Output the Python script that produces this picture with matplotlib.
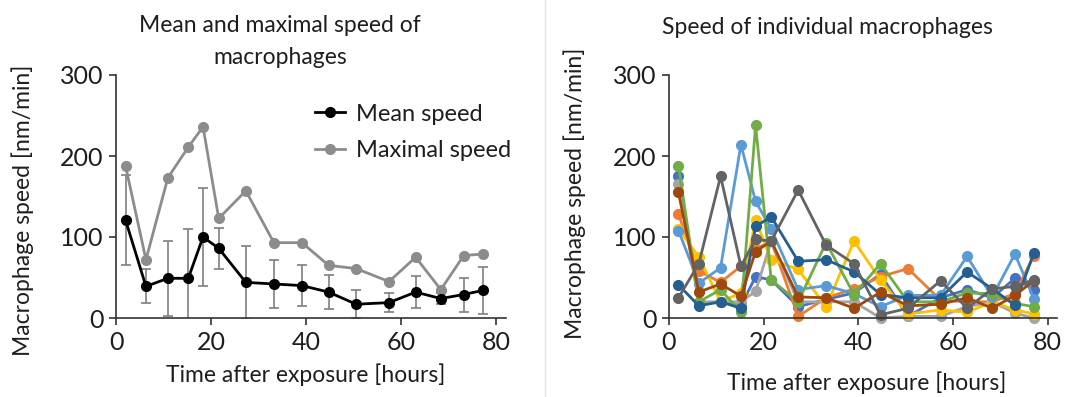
import numpy as np
import matplotlib
matplotlib.use("Agg")
import matplotlib.pyplot as plt
from matplotlib.lines import Line2D

plt.rcParams['font.family'] = ['Lato', 'DejaVu Sans']

# time points (hours after exposure)
hours = [2, 6.3, 10.9, 15.2, 18.3, 21.6, 27.3, 33.2, 39.1, 44.7, 50.5, 57.4, 63, 68.3, 73.1, 77.1]

# left panel
mean_speed = [121, 39, 49, 49, 100, 86, 44, 42, 40, 32, 17, 19, 32, 24, 29, 34]
mean_err = [55, 21, 46, 61, 61, 25, 45, 30, 25, 21, 17, 12, 20, 7, 21, 29]
max_speed = [188, 72, 173, 211, 236, 123, 157, 93, 93, 65, 61, 45, 75, 35, 77, 79]

# right panel - individual cells
cell_blue = [175, 18, 20, 15, 51, 47, 14, 23, 31, 54, 2, 25, 35, 25, 49, 35]
cell_orange = [128, 58, 44, 64, 85, 95, 2, 25, 36, 51, 61, 22, 20, 20, 30, 77]
cell_gray = [166, 20, 20, 20, 33, 95, 20, 20, 20, 0, 2, 2, 14, 20, 6, 0]
cell_yellow = [110, 75, 20, 31, 121, 72, 60, 14, 95, 47, 5, 10, 7, 20, 10, 5]
cell_ltblue = [108, 43, 62, 214, 144, 110, 35, 40, 30, 14, 28, 28, 76, 26, 79, 24]
cell_green = [188, 20, 35, 7, 238, 47, 20, 93, 29, 67, 20, 20, 31, 30, 18, 14]
cell_dkblue = [41, 15, 20, 12, 113, 125, 70, 72, 57, 29, 25, 25, 57, 36, 16, 80]
cell_brown = [155, 32, 42, 27, 82, 95, 26, 25, 12, 32, 15, 17, 25, 12, 28, 46]
cell_dkgray = [25, 67, 175, 64, 97, 95, 158, 90, 67, 4, 12, 46, 12, 36, 39, 47]

cells = [cell_blue, cell_orange, cell_gray, cell_yellow, cell_ltblue,
         cell_green, cell_dkblue, cell_brown, cell_dkgray]
cell_colors = ['#4472C4', '#ED7D31', '#A5A5A5', '#FFC000', '#5B9BD5',
               '#70AD47', '#255E91', '#9E480E', '#636363']

W, H = 1067, 397
fig = plt.figure(figsize=(W / 100, H / 100), dpi=100)
TXT = '#1e1e1e'

def style_axis(ax):
    ax.set_xlim(0, 82)
    ax.set_ylim(0, 300)
    ax.set_xticks([0, 20, 40, 60, 80])
    ax.set_yticks([0, 100, 200, 300])
    for s in ['top', 'right']:
        ax.spines[s].set_visible(False)
    for s in ['left', 'bottom']:
        ax.spines[s].set_color('#333333')
        ax.spines[s].set_linewidth(1.2)
    ax.tick_params(direction='out', length=5, width=1.2, color='#333333',
                   labelsize=18, labelcolor=TXT, pad=4)

# left
ax1 = fig.add_axes([116 / W, 1 - 318 / H, 390 / W, 243 / H])
style_axis(ax1)
ax1.errorbar(hours, mean_speed, yerr=mean_err, fmt='none', ecolor='#7f7f7f',
             elinewidth=1.2, capsize=3.5, capthick=1.2, zorder=2)
ax1.plot(hours, max_speed, color='#8c8c8c', lw=2, marker='o', ms=7,
         label='Maximal speed', zorder=3, clip_on=False)
ax1.plot(hours, mean_speed, color='black', lw=2, marker='o', ms=7,
         label='Mean speed', zorder=4, clip_on=False)
h = [Line2D([], [], color='black', lw=2, marker='o', ms=7),
     Line2D([], [], color='#8c8c8c', lw=2, marker='o', ms=7)]
ax1.legend(h, ['Mean speed', 'Maximal speed'], frameon=False, fontsize=17,
           labelcolor=TXT, loc='upper left', bbox_to_anchor=(0.455, 0.97),
           handlelength=1.3, handletextpad=0.45, labelspacing=0.65)

# right
ax2 = fig.add_axes([669 / W, 1 - 318 / H, 388 / W, 243 / H])
style_axis(ax2)
for vals, c in zip(cells, cell_colors):
    ax2.plot(hours, vals, color=c, lw=2, marker='o', ms=7, clip_on=False)

# texts
fig.text(280 / W, 1 - 25 / H, 'Mean and maximal speed of', ha='center', va='center',
         fontsize=16.5, color=TXT)
fig.text(280 / W, 1 - 58 / H, 'macrophages', ha='center', va='center',
         fontsize=16.5, color=TXT)
fig.text(827 / W, 1 - 28 / H, 'Speed of individual macrophages', ha='center', va='center',
         fontsize=16.5, color=TXT)
fig.text(23 / W, 1 - 210 / H, 'Macrophage speed [nm/min]', rotation=90,
         ha='center', va='center', fontsize=16.5, color=TXT)
fig.text(575 / W, 1 - 193 / H, 'Macrophage speed [nm/min]', rotation=90,
         ha='center', va='center', fontsize=16.5, color=TXT)
fig.text(306 / W, 1 - 375 / H, 'Time after exposure [hours]', ha='center', va='center',
         fontsize=16.5, color=TXT)
fig.text(867 / W, 1 - 383 / H, 'Time after exposure [hours]', ha='center', va='center',
         fontsize=16.5, color=TXT)

# faint divider between the two panels
fig.add_artist(Line2D([545 / W, 545 / W], [0, 1], color='#e6e6e6', lw=1))

fig.savefig('out.png', dpi=100)
